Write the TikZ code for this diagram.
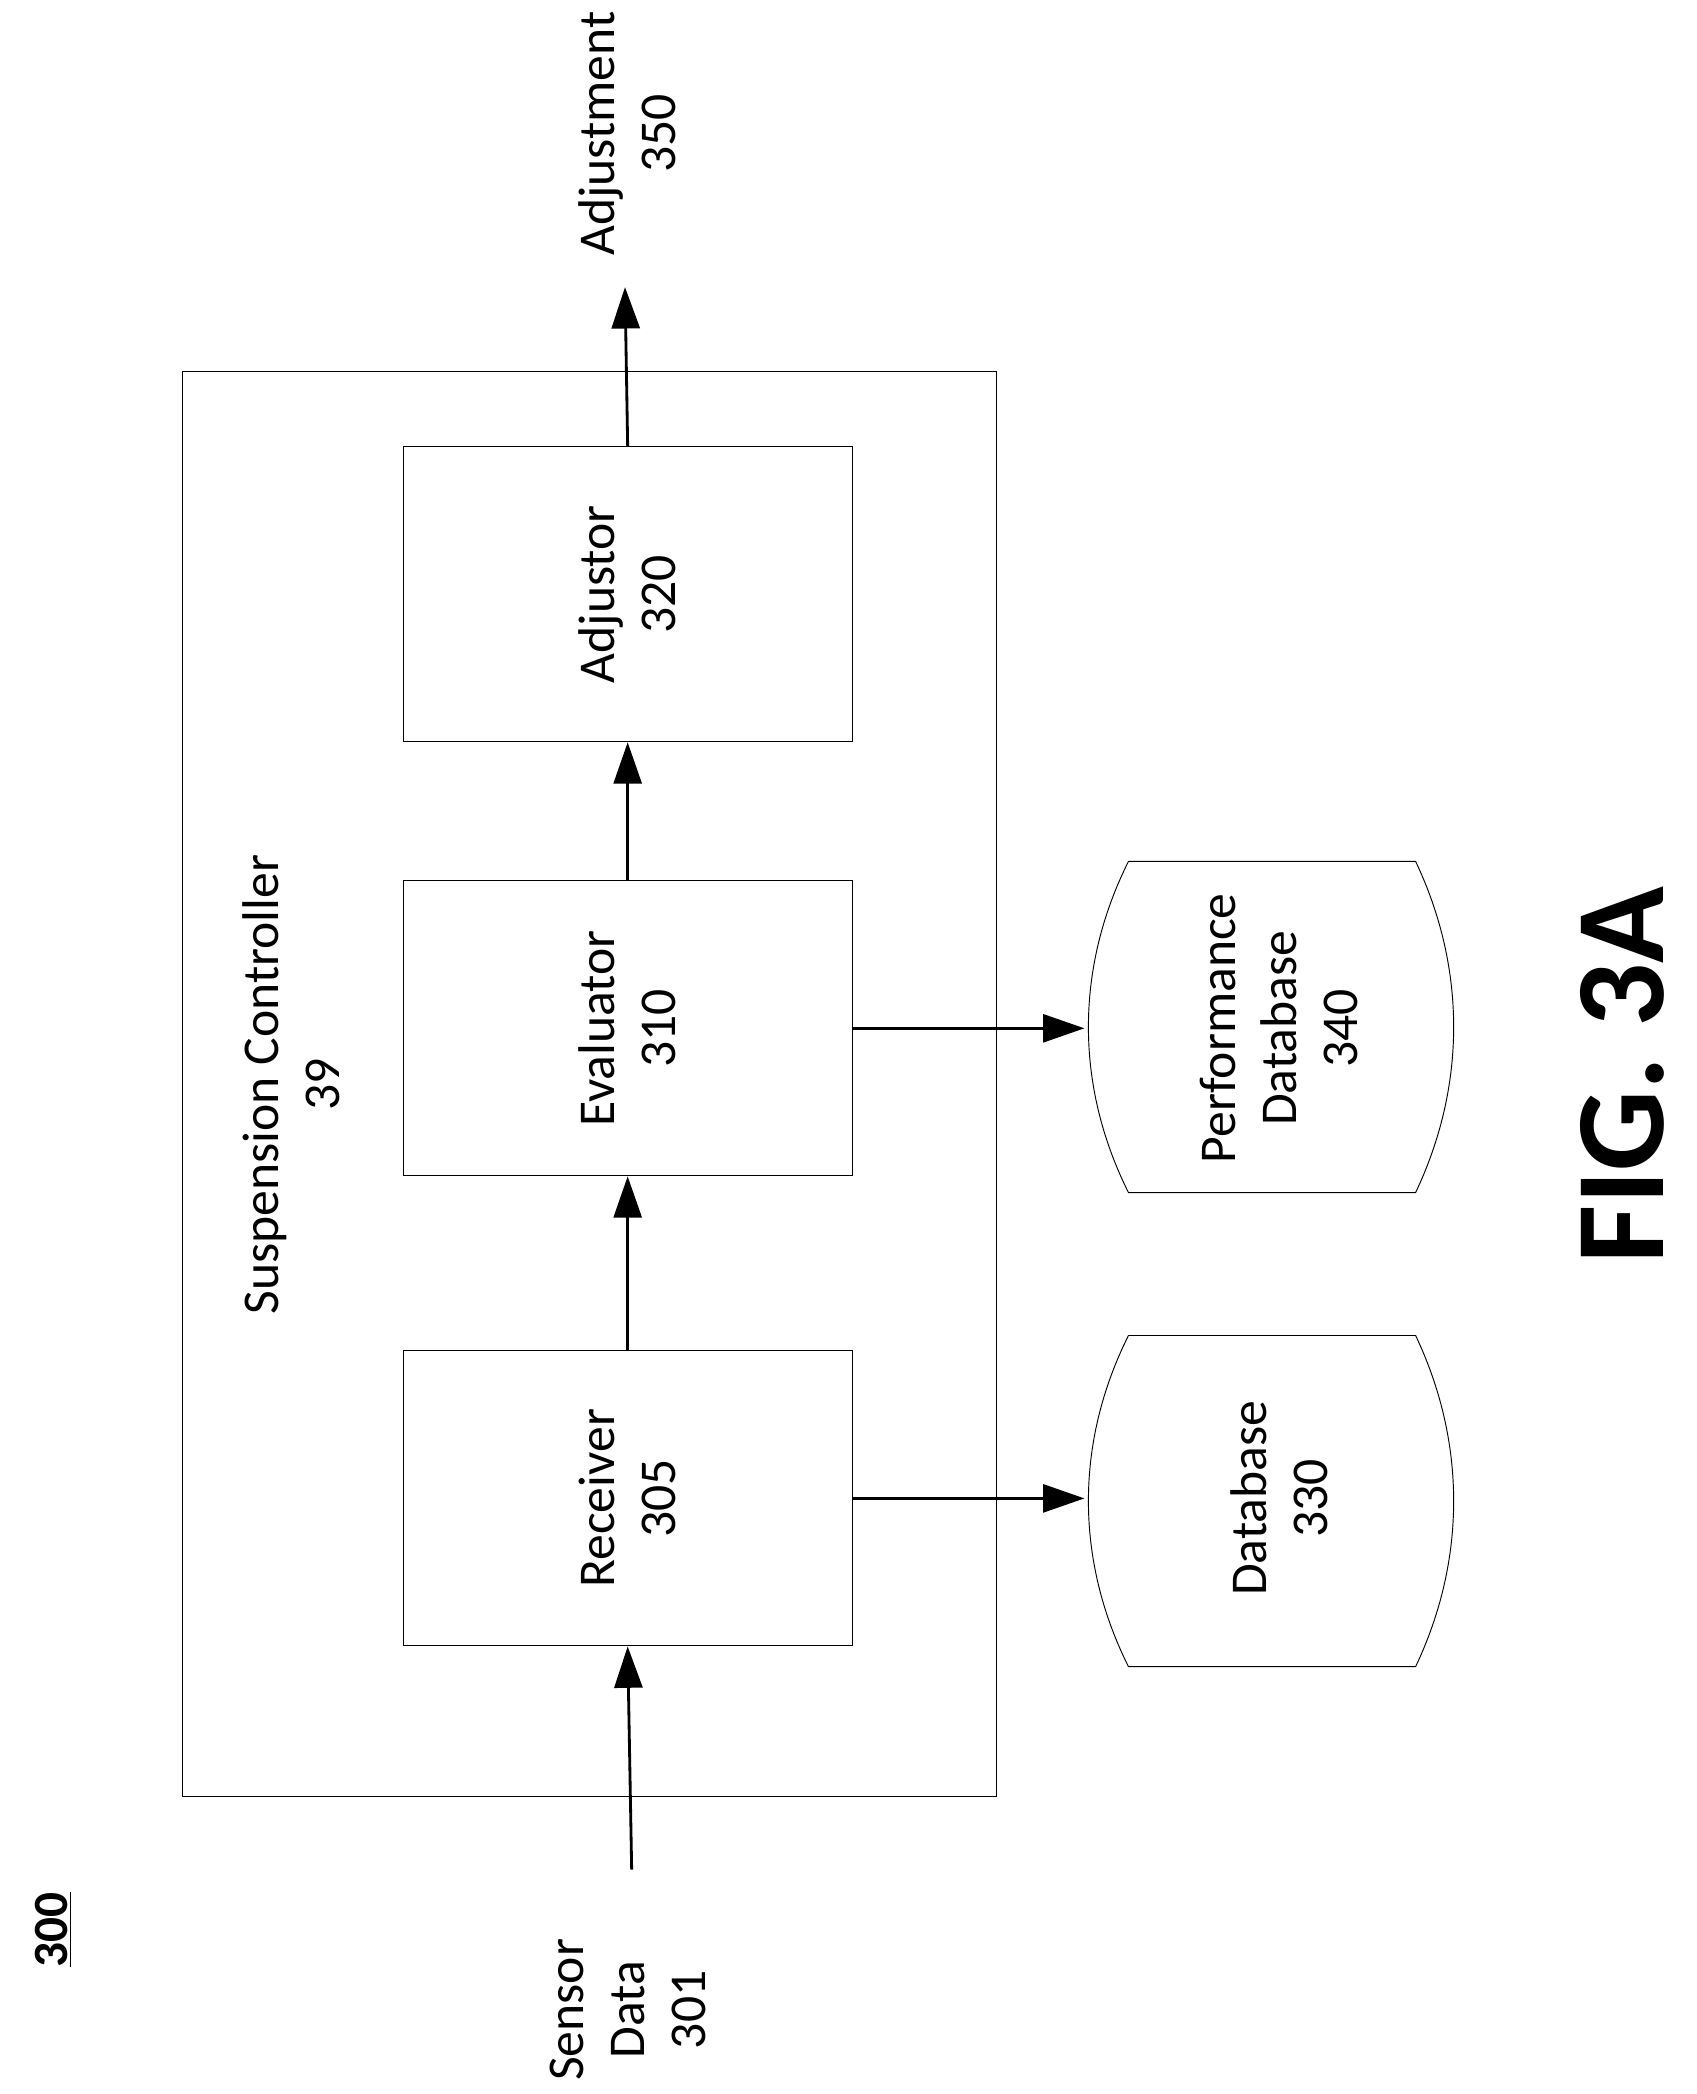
\documentclass[tikz,border=0pt]{standalone}
\usepackage{fontspec}
\setmainfont{Carlito}
\usetikzlibrary{arrows.meta}
\begin{document}
\begin{tikzpicture}[x=0.02cm, y=-0.02cm,
    blk/.style={draw, minimum width=6.72cm, minimum height=4.42cm, align=center},
    lbl/.style={rotate=90, align=center, font=\fontsize{22}{26}\selectfont},
    arr/.style={-{Triangle[length=0.62cm, width=0.42cm]}, line width=1.2pt}]
    \useasboundingbox (0,0) rectangle (1270,1568);

    \draw[thin] (137,278) rectangle (746,1345);
    \node[lbl] (ctl) at (218,812) {Suspension Controller\\39};

    \node[blk] (adj) at (470,445) {};
    \node[lbl] at (adj) {Adjustor\\320};
    \node[blk] (eva) at (470,770) {};
    \node[lbl] at (eva) {Evaluator\\310};
    \node[blk] (rec) at (470,1122) {};
    \node[lbl] at (rec) {Receiver\\305};

    % Cylinders
    \draw (845,1000) -- (1060,1000) .. controls (1098,1080) and (1098,1168) .. (1060,1248)
        -- (845,1248) .. controls (805,1168) and (805,1080) .. (845,1000);
    \coordinate (db) at (812,1122);
    \node[lbl] at (958,1122) {Database\\330};
    \draw (845,645) -- (1060,645) .. controls (1098,725) and (1098,813) .. (1060,893)
        -- (845,893) .. controls (805,813) and (805,725) .. (845,645);
    \coordinate (pdb) at (812,770);
    \node[lbl] at (958,770) {Performance\\Database\\340};

    % Inputs and outputs
    \node[lbl] (sen) at (470,1505) {Sensor\\Data\\301};
    \coordinate (sin) at (473,1400);
    \coordinate (aout) at (468,215);
    \node[lbl] (out) at (470,100) {Adjustment\\350};
    \node[rotate=90, font=\bfseries\fontsize{21}{25}\selectfont] (num) at (40,1445) {\underline{300}};
    \node[rotate=90, font=\bfseries\fontsize{54}{60}\selectfont] (fig) at (1215,805) {FIG. 3A};

    \draw[arr] (sin) -- (rec.south);
    \draw[arr] (rec.north) -- (eva.south);
    \draw[arr] (eva.north) -- (adj.south);
    \draw[arr] (adj.north) -- (aout);
    \draw[arr] (rec.east) -- (db);
    \draw[arr] (eva.east) -- (pdb);
\end{tikzpicture}
\end{document}
